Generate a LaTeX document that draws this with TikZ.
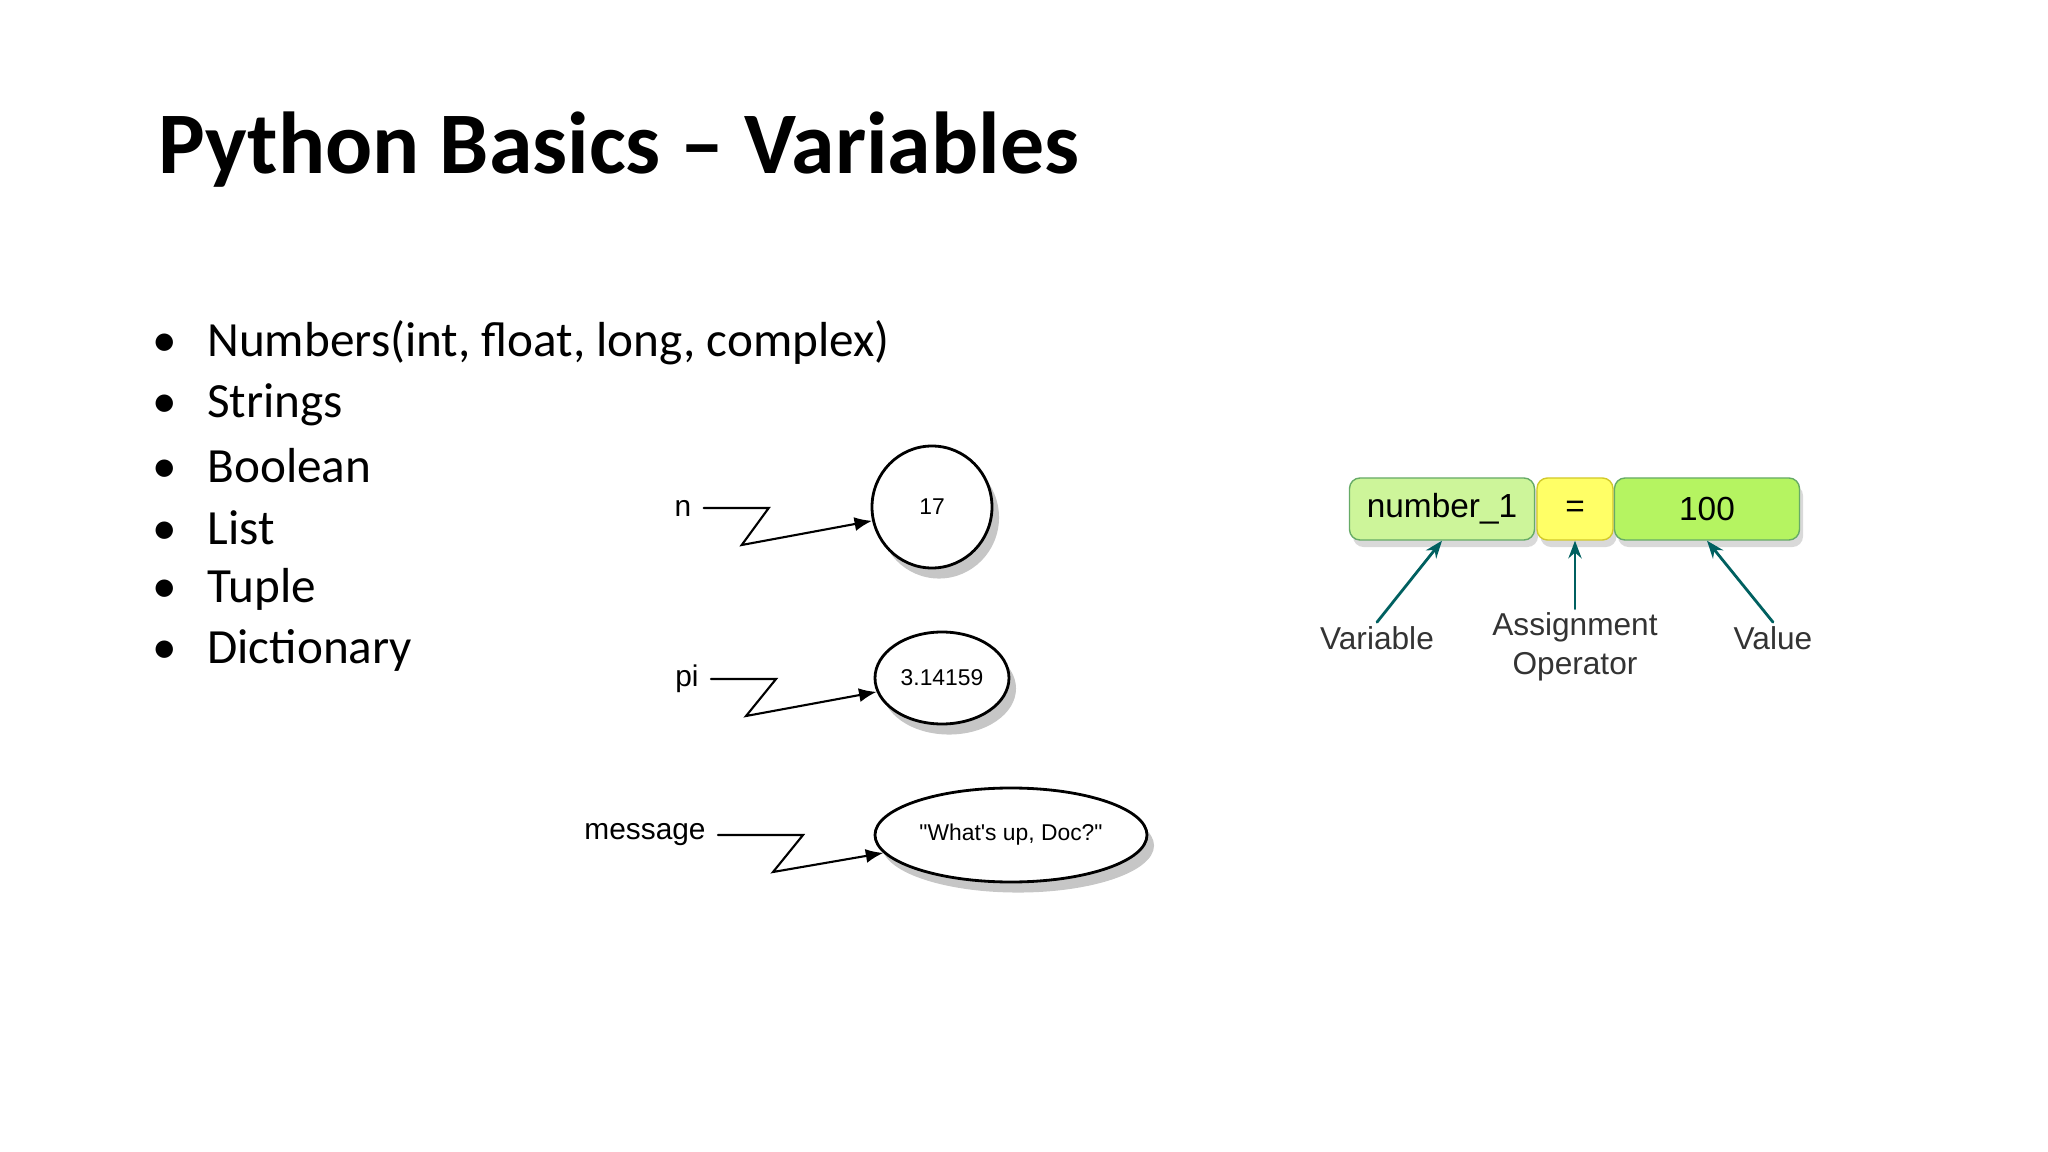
\documentclass[tikz,border=0pt]{standalone}
\usepackage{fontspec}
\setmainfont{Carlito}
\newfontfamily\arialfont{Liberation Sans}
\usetikzlibrary{arrows.meta,shadows,shapes.geometric}

\begin{document}
\begin{tikzpicture}[line cap=round]
  % Styles and colors
  \tikzset{
    value/.style={ellipse,draw,thick,fill=white,inner sep=0pt,
      drop shadow={opacity=0.45,shadow xshift=2pt,shadow yshift=-3pt},
      font=\arialfont\fontsize{6.5}{8}\selectfont},
    varname/.style={font=\arialfont\fontsize{8.5}{10}\selectfont},
    pointer/.style={-{Latex[length=5pt,width=4pt]},semithick},
    cell/.style={draw=green!45!black!60,rounded corners=3pt,minimum height=0.62cm,
      inner sep=0pt,font=\arialfont\fontsize{9.5}{11}\selectfont,
      drop shadow={opacity=0.3,shadow xshift=1pt,shadow yshift=-2pt}},
    note/.style={font=\arialfont\fontsize{9}{11}\selectfont,align=center,
      text=black!80,inner sep=1pt},
    hint/.style={-{Stealth[length=5pt]},thick,draw=teal!75!black}
  }
  \definecolor{lightgreen}{HTML}{CDF59A}
  \definecolor{opyellow}{HTML}{FFFF66}
  \definecolor{valgreen}{HTML}{B5F461}
  \useasboundingbox (0,0) rectangle (20.48,-11.52);

  % Title and bullets
  \node[anchor=west,font=\bfseries\fontsize{25}{30}\selectfont] (title) at (1.46,-1.5)
    {Python Basics -- Variables};
  \foreach \txt [count=\i] in {{Numbers(int, float, long, complex)},Strings,Boolean,List,Tuple,Dictionary}{
    \node[anchor=west,font=\fontsize{14}{17}\selectfont] (item\i) at (1.4,-3.43-0.615*\i+0.615)
      {\makebox[0.55cm][l]{\textbullet}\txt};
  }

  % Variables and their values
  \node[value,minimum width=1.2cm,minimum height=1.22cm] (v17) at (9.32,-5.07) {17};
  \node[value,minimum width=1.34cm,minimum height=0.92cm] (vpi) at (9.42,-6.78) {3.14159};
  \node[value,minimum width=2.72cm,minimum height=0.94cm] (vmsg) at (10.11,-8.35) {"What's up, Doc?"};
  \node[varname] (n) at (6.83,-5.08) {n};
  \node[varname] (pi) at (6.87,-6.79) {pi};
  \node[varname] (msg) at (6.45,-8.35) {message};
  \draw[pointer] (n.east) -- ++(0.65,0) -- ++(-0.27,-0.37) -- (v17.193);
  \draw[pointer] (pi.east) -- ++(0.65,0) -- ++(-0.3,-0.37) -- (vpi.192);
  \draw[pointer] (msg.east) -- ++(0.85,0) -- ++(-0.3,-0.37) -- (vmsg.188);

  % Assignment statement
  \node[cell,fill=lightgreen,minimum width=1.85cm] (num) at (14.42,-5.09) {number\_1};
  \node[cell,fill=opyellow,draw=yellow!80!black,minimum width=0.76cm] (eq) at (15.75,-5.09) {=};
  \node[cell,fill=valgreen,minimum width=1.85cm] (val) at (17.07,-5.09) {100};
  \node[note] (lvar) at (13.77,-6.38) {Variable};
  \node[note] (lop) at (15.75,-6.47) {Assignment\\Operator};
  \node[note] (lval) at (17.73,-6.38) {Value};
  \draw[hint] (lvar.north) -- (num.south);
  \draw[hint] (lop.north) -- (eq.south);
  \draw[hint] (lval.north) -- (val.south);
\end{tikzpicture}
\end{document}
